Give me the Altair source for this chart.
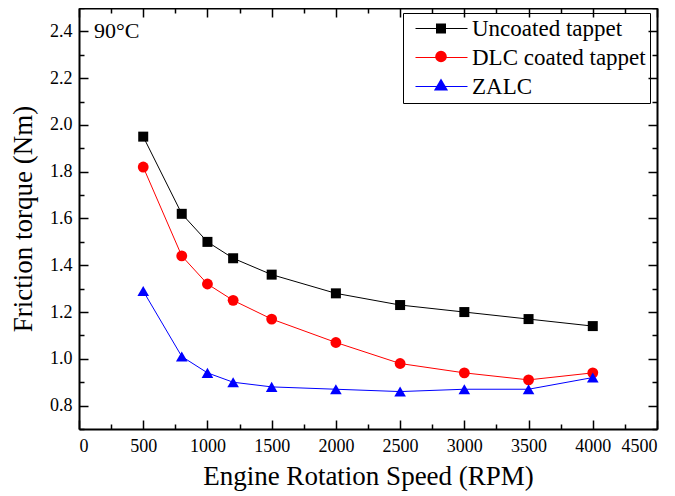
import altair as alt
import pandas as pd

rpm = [500, 800, 1000, 1200, 1500, 2000, 2500, 3000, 3500, 4000]
uncoated = [1.95, 1.62, 1.50, 1.43, 1.36, 1.28, 1.23, 1.20, 1.17, 1.14]
dlc = [1.82, 1.44, 1.32, 1.25, 1.17, 1.07, 0.98, 0.94, 0.91, 0.94]
zalc = [1.29, 1.01, 0.94, 0.90, 0.88, 0.87, 0.86, 0.87, 0.87, 0.92]

series_names = ["Uncoated tappet", "DLC coated tappet", "ZALC"]
series_colors = ["#000000", "#ff0000", "#0000ff"]
series_shapes = ["square", "circle", "triangle-up"]
series_sizes = [100, 135, 200]

x_major = [0, 500, 1000, 1500, 2000, 2500, 3000, 3500, 4000, 4500]
x_minor = [250, 750, 1250, 1750, 2250, 2750, 3250, 3750, 4250]
y_major = [0.8, 1.0, 1.2, 1.4, 1.6, 1.8, 2.0, 2.2, 2.4]
y_minor = [0.7, 0.9, 1.1, 1.3, 1.5, 1.7, 1.9, 2.1, 2.3, 2.5]

annotation = "90\u00b0C"
x_title = "Engine Rotation Speed (RPM)"
y_title = "Friction torque (Nm)"

rows = []
for name, vals in zip(series_names, [uncoated, dlc, zalc]):
    for r, v in zip(rpm, vals):
        rows.append({"rpm": r, "torque": v, "series": name, "series2": name})
df = pd.DataFrame(rows)

W, H = 578, 421
FONT = "Liberation Serif"

# legend layout (pixels, relative to plot origin)
LEG_X, LEG_Y, LEG_PAD, LEG_ROW, LEG_GAP = 324, 5, 4, 23, 5
LEG_SYM_CX = LEG_X + LEG_PAD + 26 + 8

xs = alt.Scale(domain=[0, 4500], nice=False, zero=False)
ys = alt.Scale(domain=[0.7, 2.5], nice=False, zero=False)


def tick_axis(orient, values, size, offset, domain=False):
    return alt.Axis(orient=orient, values=values, tickSize=size, offset=offset,
                    labels=False, title=None, grid=False, domain=domain,
                    domainColor="black", domainWidth=2,
                    tickColor="black", tickWidth=1.5)


base = alt.Chart(df)

lines = base.mark_line(strokeWidth=1).encode(
    x=alt.X("rpm:Q", scale=xs, axis=alt.Axis(
        orient="bottom", values=x_major, format="d", ticks=False, grid=False,
        domainColor="black", domainWidth=2, labelFont=FONT, labelFontSize=18,
        labelColor="black", labelPadding=8, title=x_title, titleFont=FONT,
        titleFontSize=27, titleFontWeight="normal", titleColor="black",
        titlePadding=8)),
    y=alt.Y("torque:Q", scale=ys, axis=alt.Axis(
        orient="left", values=y_major, format=".1f", ticks=False, grid=False,
        domainColor="black", domainWidth=2, labelFont=FONT, labelFontSize=18,
        labelColor="black", labelPadding=7, title=y_title, titleFont=FONT,
        titleFontSize=27, titleFontWeight="normal", titleColor="black",
        titlePadding=12)),
    color=alt.Color("series:N", scale=alt.Scale(range=series_colors),
                    sort=series_names,
                    legend=alt.Legend(orient="none", legendX=LEG_X, legendY=LEG_Y, title=None,
                                      labelFont=FONT, labelFontSize=23, labelColor="black",
                                      symbolType="stroke", symbolSize=2704,
                                      symbolStrokeWidth=1, strokeColor="black",
                                      padding=LEG_PAD, rowPadding=LEG_GAP, symbolOffset=8,
                                      clipHeight=LEG_ROW, labelOffset=4, labelLimit=400)),
    order="rpm:Q",
)

points = base.mark_point(filled=True, opacity=1).encode(
    x=alt.X("rpm:Q", scale=xs, axis=tick_axis("top", x_major, 9, -H)),
    y=alt.Y("torque:Q", scale=ys, axis=tick_axis("right", y_major, 9, -W)),
    shape=alt.Shape("series2:N", scale=alt.Scale(domain=series_names, range=series_shapes),
                    legend=None),
    fill=alt.Fill("series2:N", scale=alt.Scale(domain=series_names, range=series_colors),
                  legend=None),
    size=alt.Size("series2:N", scale=alt.Scale(domain=series_names, range=series_sizes),
                  legend=None),
)

ghost = base.mark_point(opacity=0)

minor_in = ghost.encode(
    x=alt.X("rpm:Q", scale=xs, axis=tick_axis("top", x_minor, 5, -H)),
    y=alt.Y("torque:Q", scale=ys, axis=tick_axis("right", y_minor, 5, -W)),
)
frame_major = ghost.encode(
    x=alt.X("rpm:Q", scale=xs, axis=tick_axis("bottom", x_major, 9, -H, domain=True)),
    y=alt.Y("torque:Q", scale=ys, axis=tick_axis("left", y_major, 9, -W, domain=True)),
)
frame_minor = ghost.encode(
    x=alt.X("rpm:Q", scale=xs, axis=tick_axis("bottom", x_minor, 5, -H)),
    y=alt.Y("torque:Q", scale=ys, axis=tick_axis("left", y_minor, 5, -W)),
)

# legend markers drawn over the legend's line glyphs
leg_df = pd.DataFrame({"series2": series_names})
legend_marks = []
for i, (name, shp, col, sz) in enumerate(zip(series_names, series_shapes, series_colors, series_sizes)):
    row_cy = LEG_Y + LEG_PAD + LEG_ROW / 2 + i * (LEG_ROW + LEG_GAP)
    legend_marks.append(
        alt.Chart(leg_df).transform_filter(alt.datum.series2 == name).mark_point(
            filled=True, opacity=1, shape=shp, fill=col, size=sz
        ).encode(x=alt.value(LEG_SYM_CX), y=alt.value(row_cy))
    )

label = alt.Chart(pd.DataFrame({"t": [annotation]})).mark_text(
    font=FONT, fontSize=22, align="left", baseline="alphabetic", color="black"
).encode(text="t:N", x=alt.value(15), y=alt.value(30))

chart = alt.layer(lines, points, minor_in, frame_major, frame_minor, label, *legend_marks).resolve_axis(
    x="independent", y="independent"
).properties(
    width=W, height=H,
    autosize=alt.AutoSizeParams(type="none"),
    padding={"left": 71, "top": 0, "right": 10, "bottom": 64},
).configure_view(stroke=None)

chart.save("out.html", embed_options={"renderer": "svg", "actions": False})
